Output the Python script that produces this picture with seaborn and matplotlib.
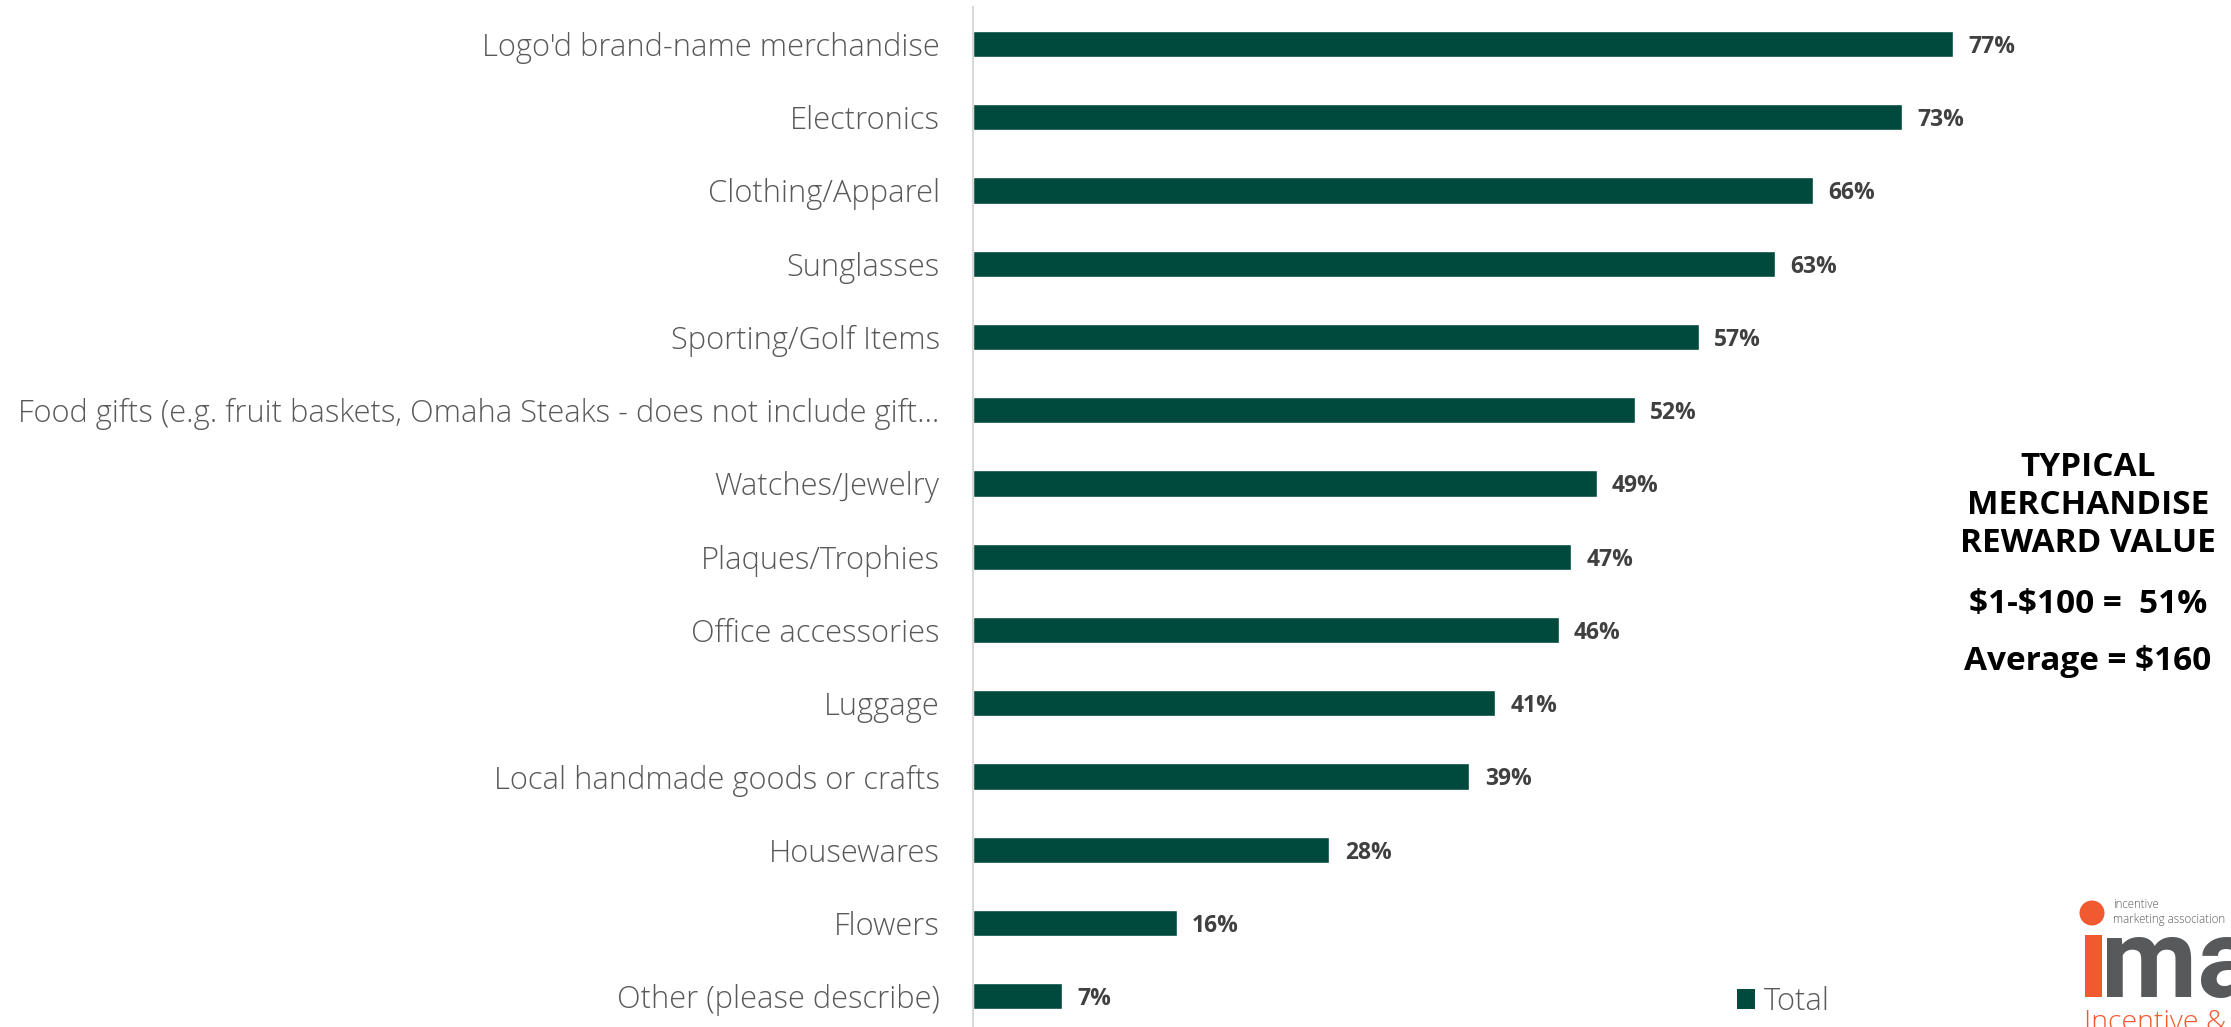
import matplotlib
matplotlib.use("Agg")
import matplotlib.pyplot as plt
import seaborn as sns
import pandas as pd
from matplotlib.patches import Rectangle, Ellipse, Patch

# Survey results: merchandise types offered as rewards
categories = [
    "Logo'd brand-name merchandise",
    "Electronics",
    "Clothing/Apparel",
    "Sunglasses",
    "Sporting/Golf Items",
    "Food gifts (e.g. fruit baskets, Omaha Steaks - does not include gift\u2026",
    "Watches/Jewelry",
    "Plaques/Trophies",
    "Office accessories",
    "Luggage",
    "Local handmade goods or crafts",
    "Housewares",
    "Flowers",
    "Other (please describe)",
]
values = [77, 73, 66, 63, 57, 52, 49, 47, 46, 41, 39, 28, 16, 7]
series_name = "Total"

side_title = ["TYPICAL", "MERCHANDISE", "REWARD VALUE"]
side_facts = [r"\$1-\$100 =  51%", r"Average = \$160"]

BAR = "#00493D"
TICK_GREY = "#595959"
VALUE_GREY = "#404040"
ORANGE = "#F15A31"
LOGO_GREY = "#58595B"

sns.set_theme(style="white")
plt.rcParams["font.family"] = ["Open Sans", "DejaVu Sans"]

W, H, DPI = 2231, 1027, 100
fig = plt.figure(figsize=(W / DPI, H / DPI), dpi=DPI)
fig.patch.set_facecolor("white")


def fx(px):
    return px / W


def fy(py):
    return 1 - py / H


ax = fig.add_axes([fx(973), 0, (W - 973) / W, 1020 / H])

df = pd.DataFrame({"category": categories, "value": values})
sns.barplot(data=df, x="value", y="category", orient="h", color=BAR,
            saturation=1, width=0.36, ax=ax)

ax.set_xlim(0, (W - 973) / 12.73)
ax.set_ylim(13.42, -0.505)

labels = ax.bar_label(ax.containers[0], labels=[f"{v}%" for v in values],
                      padding=11, fontsize=16.5, fontweight="bold", color=VALUE_GREY)
for t in labels:
    t.set_va("center_baseline")

for side in ["top", "right", "bottom"]:
    ax.spines[side].set_visible(False)
ax.spines["left"].set_color("#D9D9D9")
ax.spines["left"].set_linewidth(1.5)
ax.set_xticks([])
ax.set_xlabel("")
ax.set_ylabel("")
ax.tick_params(axis="y", length=0, pad=24, labelsize=22.2, labelcolor=TICK_GREY)
for t in ax.get_yticklabels():
    t.set_fontweight("light")

# Legend
fig.legend(handles=[Patch(facecolor=BAR, edgecolor="none")], labels=[series_name],
           loc="center left", bbox_to_anchor=(fx(1737), fy(1002)),
           frameon=False, handlelength=0.58, handleheight=0.62,
           handletextpad=0.3, borderpad=0, borderaxespad=0,
           labelcolor=TICK_GREY, prop={"weight": "light", "size": 22.2})

# Side note
for text, y in zip(side_title, [468, 506, 544]):
    fig.text(fx(2088), fy(y), text, ha="center", va="center", fontsize=24,
             fontweight="bold", color="black")
for text, y in zip(side_facts, [604, 662]):
    fig.text(fx(2088), fy(y), text, ha="center", va="center", fontsize=24,
             fontweight="bold", color="black")

# Association logo
fig.add_artist(Ellipse((fx(2092), fy(913)), 25 / W, 25 / H, facecolor=ORANGE,
                       edgecolor="none", transform=fig.transFigure))
fig.text(fx(2113), fy(905), "incentive", ha="left", va="center", fontsize=8.3,
         color=LOGO_GREY, fontweight="light")
fig.text(fx(2113), fy(920), "marketing association", ha="left", va="center",
         fontsize=8.3, color=LOGO_GREY, fontweight="light")
fig.add_artist(Rectangle((fx(2085), fy(997)), 17 / W, 62 / H, facecolor=ORANGE,
                         edgecolor="none", transform=fig.transFigure))
fig.text(fx(2101), fy(997), "ma", ha="left", va="baseline", fontsize=80,
         family="Roboto", fontweight="bold", color=LOGO_GREY)
fig.text(fx(2084), fy(1030), "Incentive &", ha="left", va="baseline", fontsize=20.5,
         color=ORANGE, fontweight="light")

fig.savefig("out.png", dpi=DPI)
